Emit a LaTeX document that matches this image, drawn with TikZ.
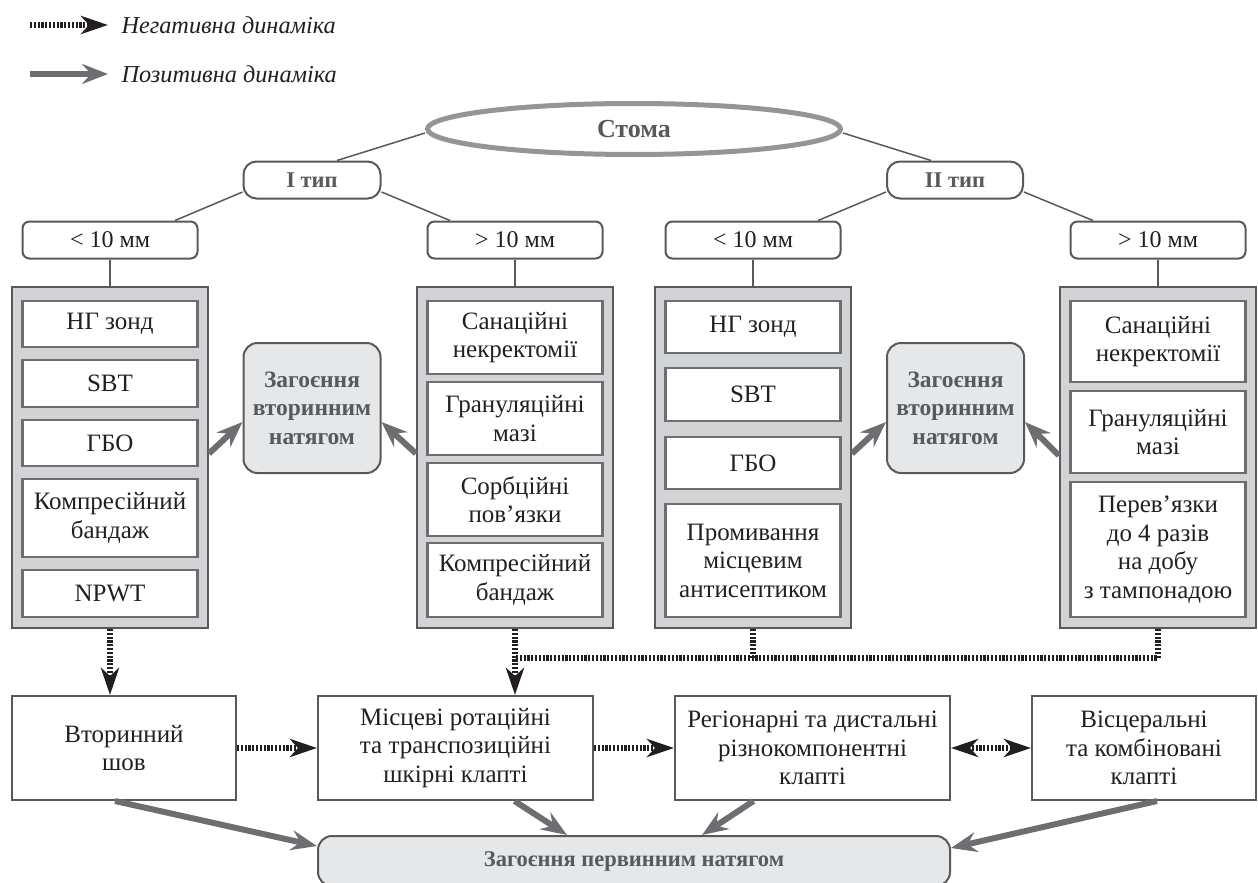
\documentclass[tikz,border=0pt]{standalone}
\usepackage{fontspec}
\setmainfont{Liberation Serif}
\usepackage{tikz}
\usetikzlibrary{arrows.meta,calc,shapes.geometric}

\definecolor{ink}{HTML}{231F20}
\definecolor{dgray}{HTML}{58595B}
\definecolor{mgray}{HTML}{6D6E71}
\definecolor{lgray}{HTML}{939598}
\definecolor{panelgray}{HTML}{D1D3D4}
\definecolor{softgray}{HTML}{E6E7E8}

\begin{document}
\begin{tikzpicture}[x=1pt, y=-1pt,
    every node/.style={font=\fontsize{25}{28.5}\selectfont, text=ink},
    boldtext/.style={font=\fontsize{22.5}{28}\selectfont\bfseries, text=dgray},
    conn/.style={dgray, line width=1.5pt},
    tag/.style={draw=dgray, line width=2pt, fill=white, rounded corners=7pt,
      minimum width=175pt, minimum height=37pt, inner sep=0pt,
      font=\fontsize{24}{28}\selectfont},
    panel/.style={draw=dgray, line width=2pt, fill=panelgray,
      minimum width=196pt, minimum height=341pt},
    item/.style={draw=mgray, line width=2.5pt, fill=white, align=center,
      minimum width=175pt, inner sep=0pt},
    heal/.style={draw=dgray, line width=2pt, fill=softgray, rounded corners=14pt,
      minimum width=137pt, minimum height=130pt, align=center, boldtext,
      font=\fontsize{23.5}{28.5}\selectfont\bfseries},
    flap/.style={draw=dgray, line width=2pt, fill=white, align=center,
      minimum height=104pt, inner sep=0pt},
    posarrow/.style={mgray, line width=6pt, -{Stealth[length=26pt, width=20pt, inset=9pt]}},
    negline/.style={ink, line width=6.5pt, dash pattern=on 2.2pt off 1.6pt},
    negarrow/.style={negline, -{Stealth[length=27pt, width=18pt, inset=8pt]}},
    negboth/.style={negline, {Stealth[length=27pt, width=18pt, inset=8pt]}-{Stealth[length=27pt, width=18pt, inset=8pt]}}]
  \useasboundingbox (0,0) rectangle (1258,883);

  \coordinate (lgA) at (30,25);
  \coordinate (lgB) at (108,25);
  \coordinate (lgC) at (30,74);
  \coordinate (lgD) at (108,74);
  \draw[negarrow] (lgA) -- (lgB);
  \draw[posarrow] (lgC) -- (lgD);
  \node[anchor=west, font=\fontsize{24.3}{28}\selectfont\itshape] (lgneg) at (118,25) {Негативна динаміка};
  \node[anchor=west, font=\fontsize{24.3}{28}\selectfont\itshape] (lgpos) at (118,74) {Позитивна динаміка};

  \node[ellipse, draw=lgray, line width=5pt, fill=white, minimum width=413pt, minimum height=51pt,
    font=\fontsize{26}{30}\selectfont\bfseries, text=dgray] (stoma) at (634,129) {Стома};

  \node[tag, rounded corners=13pt, minimum width=137pt, boldtext] (t1) at (312,180) {I тип};
  \node[tag, rounded corners=13pt, minimum width=136pt, boldtext] (t2) at (955,180) {II тип};

  \node[tag] (s1a) at (110,240) {< 10 мм};
  \node[tag] (s1b) at (515,240) {> 10 мм};
  \node[tag] (s2a) at (753,240) {< 10 мм};
  \node[tag] (s2b) at (1158,240) {> 10 мм};

  \draw[conn] ([yshift=-4pt]stoma.west) -- ([xshift=25pt]t1.north);
  \draw[conn] ([yshift=-4pt]stoma.east) -- ([xshift=-24pt]t2.north);
  \draw[conn] ([yshift=-12pt]t1.west) -- ([xshift=65pt]s1a.north);
  \draw[conn] ([yshift=-12pt]t1.east) -- ([xshift=-65pt]s1b.north);
  \draw[conn] ([yshift=-12pt]t2.west) -- ([xshift=65pt]s2a.north);
  \draw[conn] ([yshift=-12pt]t2.east) -- ([xshift=-65pt]s2b.north);

  \node[panel] (col1) at (110,457.5) {};
  \node[panel] (col2) at (515,457.5) {};
  \node[panel] (col3) at (753,457.5) {};
  \node[panel] (col4) at (1158,457.5) {};

  \draw[conn] (s1a) -- (col1);
  \draw[conn] (s1b) -- (col2);
  \draw[conn] (s2a) -- (col3);
  \draw[conn] (s2b) -- (col4);

  \node[item, minimum height=46pt] (c1a) at (110,324) {НГ зонд};
  \node[item, minimum height=47pt] (c1b) at (110,383.5) {SBT};
  \node[item, minimum height=46pt] (c1c) at (110,443) {ГБО};
  \node[item, minimum height=78pt] (c1d) at (110,518) {Компресійний\\бандаж};
  \node[item, minimum height=47pt] (c1e) at (110,593.5) {NPWT};

  \node[item, minimum height=73pt] (c2a) at (515,337.5) {Санаційні\\некректомії};
  \node[item, minimum height=73pt] (c2b) at (515,418.5) {Грануляційні\\мазі};
  \node[item, minimum height=73pt] (c2c) at (515,499.5) {Сорбційні\\пов’язки};
  \node[item, minimum height=74pt] (c2d) at (515,580) {Компресійний\\бандаж};

  \node[item, minimum height=52pt] (c3a) at (753,327) {НГ зонд};
  \node[item, minimum height=53pt] (c3b) at (753,394.5) {SBT};
  \node[item, minimum height=52pt] (c3c) at (753,463) {ГБО};
  \node[item, minimum height=113pt] (c3d) at (753,560.5) {Промивання\\місцевим\\антисептиком};

  \node[item, minimum height=81pt] (c4a) at (1158,341.5) {Санаційні\\некректомії};
  \node[item, minimum height=82pt] (c4b) at (1158,432) {Грануляційні\\мазі};
  \node[item, minimum height=135pt] (c4c) at (1158,549.5) {Перев’язки\\до 4 разів\\на добу\\з тампонадою};

  \node[heal] (heal1) at (312,408) {Загоєння\\вторинним\\натягом};
  \node[heal] (heal2) at (955.5,408) {Загоєння\\вторинним\\натягом};

  \draw[posarrow] ([yshift=4pt]col1.east) -- ([yshift=-14pt]heal1.west);
  \draw[posarrow] ([yshift=4pt]col2.west) -- ([yshift=-14pt]heal1.east);
  \draw[posarrow] ([yshift=4pt]col3.east) -- ([yshift=-14pt]heal2.west);
  \draw[posarrow] ([yshift=2pt]col4.west) -- ([yshift=-14pt]heal2.east);

  \node[flap, minimum width=224pt] (sec) at (124,748) {Вторинний\\шов};
  \node[flap, minimum width=275pt] (loc) at (455.5,748) {Місцеві ротаційні\\та транспозиційні\\шкірні клапті};
  \node[flap, minimum width=275pt] (reg) at (812.5,748) {Регіонарні та дистальні\\різнокомпонентні\\клапті};
  \node[flap, minimum width=224pt] (visc) at (1144,748) {Вісцеральні\\та комбіновані\\клапті};

  \node[draw=dgray, line width=2pt, fill=softgray, rounded corners=14pt,
    minimum width=632pt, minimum height=50pt, boldtext] (prim) at (634,861) {Загоєння первинним натягом};

  \coordinate (jn) at (515,658);
  \draw[negline] (col4.south) -- (col4.south |- jn) -- (jn);
  \draw[negline] (col3.south) -- (col3.south |- jn);
  \draw[negarrow] (col1.south) -- (col1.south |- sec.north);
  \draw[negarrow] (col2.south) -- (col2.south |- loc.north);

  \draw[negarrow] (sec) -- (loc);
  \draw[negarrow] (loc) -- (reg);
  \draw[negboth] (reg) -- (visc);

  \draw[posarrow] ([xshift=-9pt]sec.south) -- ([yshift=15pt]prim.west);
  \draw[posarrow] ([xshift=59pt]loc.south) -- ([xshift=-67pt]prim.north);
  \draw[posarrow] ([xshift=-59pt]reg.south) -- ([xshift=68pt]prim.north);
  \draw[posarrow] ([xshift=13pt]visc.south) -- ([yshift=13pt]prim.east);
\end{tikzpicture}
\end{document}
